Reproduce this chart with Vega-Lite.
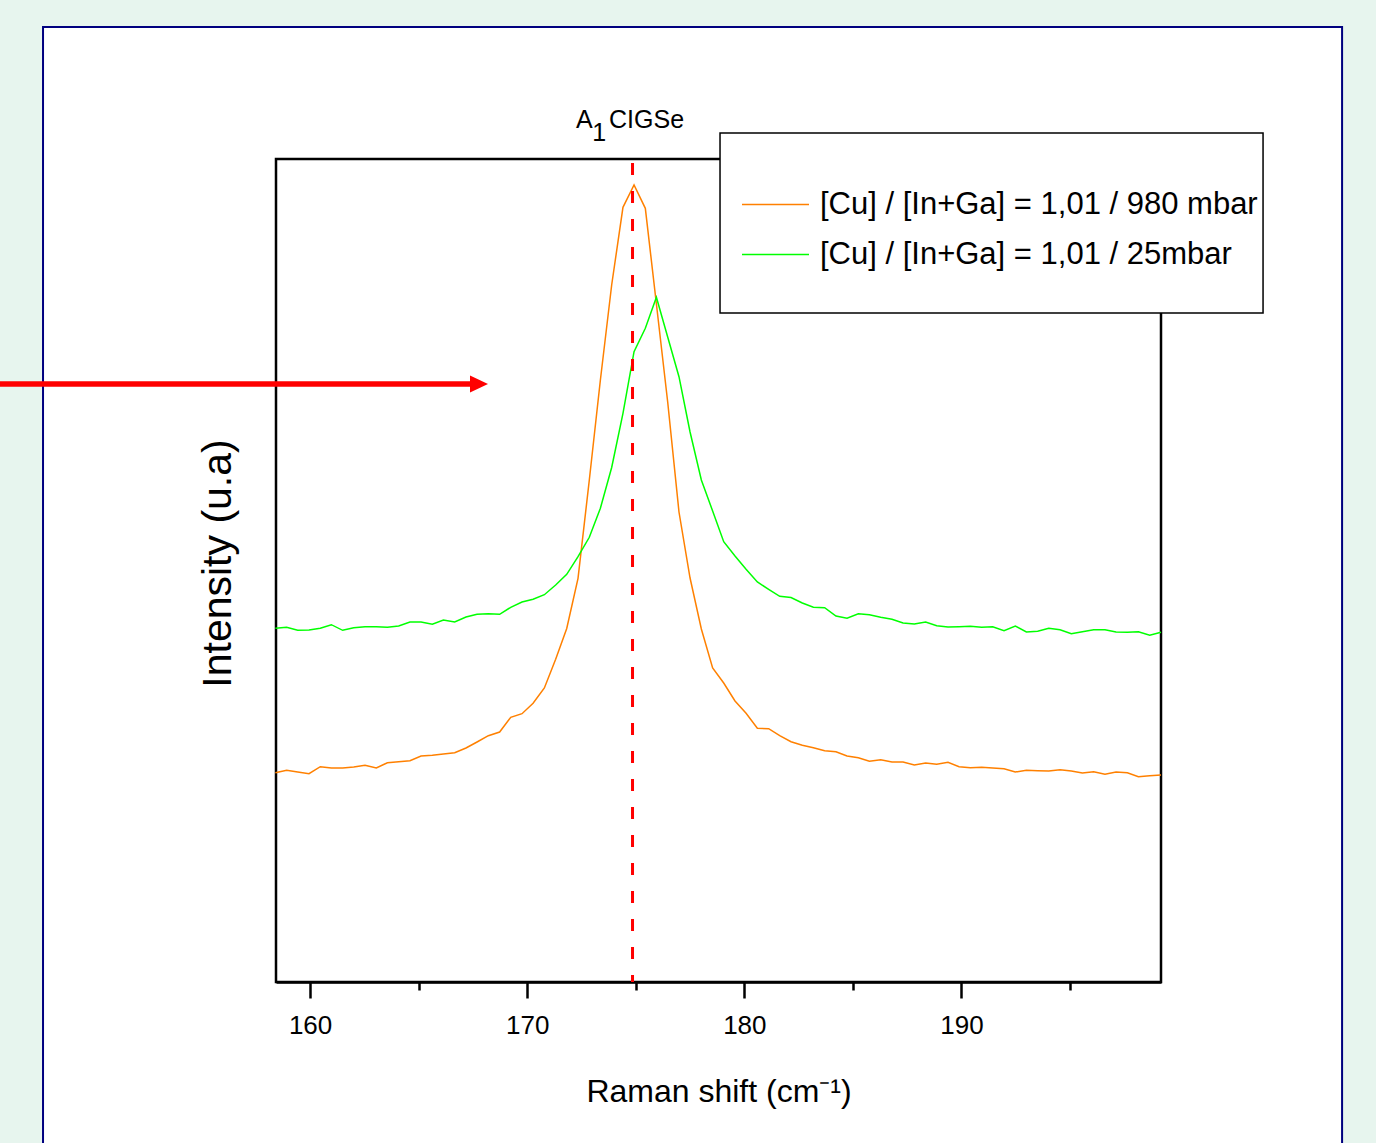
{
  "$schema": "https://vega.github.io/schema/vega-lite/v6.json",
  "autosize": {"type": "none"},
  "padding": {"left": 276, "top": 159, "right": 215, "bottom": 161},
  "width": 885,
  "height": 823,
  "background": "white",
  "config": {
    "view": {"stroke": "black", "strokeWidth": 2.5},
    "axis": {"grid": false}
  },
  "datasets": {
    "spectra": [
      {"x":158.40,"y":209.3,"series":"[Cu] / [In+Ga] = 1,01 / 980 mbar"},
      {"x":158.92,"y":211.7,"series":"[Cu] / [In+Ga] = 1,01 / 980 mbar"},
      {"x":159.43,"y":210.0,"series":"[Cu] / [In+Ga] = 1,01 / 980 mbar"},
      {"x":159.95,"y":208.3,"series":"[Cu] / [In+Ga] = 1,01 / 980 mbar"},
      {"x":160.47,"y":215.3,"series":"[Cu] / [In+Ga] = 1,01 / 980 mbar"},
      {"x":160.98,"y":214.0,"series":"[Cu] / [In+Ga] = 1,01 / 980 mbar"},
      {"x":161.50,"y":214.0,"series":"[Cu] / [In+Ga] = 1,01 / 980 mbar"},
      {"x":162.01,"y":215.0,"series":"[Cu] / [In+Ga] = 1,01 / 980 mbar"},
      {"x":162.53,"y":216.7,"series":"[Cu] / [In+Ga] = 1,01 / 980 mbar"},
      {"x":163.05,"y":214.0,"series":"[Cu] / [In+Ga] = 1,01 / 980 mbar"},
      {"x":163.56,"y":219.3,"series":"[Cu] / [In+Ga] = 1,01 / 980 mbar"},
      {"x":164.08,"y":220.3,"series":"[Cu] / [In+Ga] = 1,01 / 980 mbar"},
      {"x":164.60,"y":221.3,"series":"[Cu] / [In+Ga] = 1,01 / 980 mbar"},
      {"x":165.11,"y":226.0,"series":"[Cu] / [In+Ga] = 1,01 / 980 mbar"},
      {"x":165.63,"y":226.7,"series":"[Cu] / [In+Ga] = 1,01 / 980 mbar"},
      {"x":166.14,"y":228.0,"series":"[Cu] / [In+Ga] = 1,01 / 980 mbar"},
      {"x":166.66,"y":229.3,"series":"[Cu] / [In+Ga] = 1,01 / 980 mbar"},
      {"x":167.18,"y":234.0,"series":"[Cu] / [In+Ga] = 1,01 / 980 mbar"},
      {"x":167.69,"y":240.0,"series":"[Cu] / [In+Ga] = 1,01 / 980 mbar"},
      {"x":168.21,"y":246.3,"series":"[Cu] / [In+Ga] = 1,01 / 980 mbar"},
      {"x":168.73,"y":250.0,"series":"[Cu] / [In+Ga] = 1,01 / 980 mbar"},
      {"x":169.24,"y":264.7,"series":"[Cu] / [In+Ga] = 1,01 / 980 mbar"},
      {"x":169.76,"y":268.3,"series":"[Cu] / [In+Ga] = 1,01 / 980 mbar"},
      {"x":170.27,"y":278.7,"series":"[Cu] / [In+Ga] = 1,01 / 980 mbar"},
      {"x":170.79,"y":294.0,"series":"[Cu] / [In+Ga] = 1,01 / 980 mbar"},
      {"x":171.31,"y":322.7,"series":"[Cu] / [In+Ga] = 1,01 / 980 mbar"},
      {"x":171.82,"y":353.5,"series":"[Cu] / [In+Ga] = 1,01 / 980 mbar"},
      {"x":172.34,"y":403.7,"series":"[Cu] / [In+Ga] = 1,01 / 980 mbar"},
      {"x":172.86,"y":502.0,"series":"[Cu] / [In+Ga] = 1,01 / 980 mbar"},
      {"x":173.37,"y":602.0,"series":"[Cu] / [In+Ga] = 1,01 / 980 mbar"},
      {"x":173.89,"y":697.0,"series":"[Cu] / [In+Ga] = 1,01 / 980 mbar"},
      {"x":174.41,"y":774.7,"series":"[Cu] / [In+Ga] = 1,01 / 980 mbar"},
      {"x":174.92,"y":797.0,"series":"[Cu] / [In+Ga] = 1,01 / 980 mbar"},
      {"x":175.44,"y":773.7,"series":"[Cu] / [In+Ga] = 1,01 / 980 mbar"},
      {"x":175.95,"y":678.0,"series":"[Cu] / [In+Ga] = 1,01 / 980 mbar"},
      {"x":176.47,"y":580.0,"series":"[Cu] / [In+Ga] = 1,01 / 980 mbar"},
      {"x":176.99,"y":470.0,"series":"[Cu] / [In+Ga] = 1,01 / 980 mbar"},
      {"x":177.50,"y":404.0,"series":"[Cu] / [In+Ga] = 1,01 / 980 mbar"},
      {"x":178.02,"y":353.0,"series":"[Cu] / [In+Ga] = 1,01 / 980 mbar"},
      {"x":178.54,"y":314.0,"series":"[Cu] / [In+Ga] = 1,01 / 980 mbar"},
      {"x":179.05,"y":299.0,"series":"[Cu] / [In+Ga] = 1,01 / 980 mbar"},
      {"x":179.57,"y":281.0,"series":"[Cu] / [In+Ga] = 1,01 / 980 mbar"},
      {"x":180.08,"y":268.7,"series":"[Cu] / [In+Ga] = 1,01 / 980 mbar"},
      {"x":180.60,"y":253.7,"series":"[Cu] / [In+Ga] = 1,01 / 980 mbar"},
      {"x":181.12,"y":253.3,"series":"[Cu] / [In+Ga] = 1,01 / 980 mbar"},
      {"x":181.63,"y":246.3,"series":"[Cu] / [In+Ga] = 1,01 / 980 mbar"},
      {"x":182.15,"y":240.3,"series":"[Cu] / [In+Ga] = 1,01 / 980 mbar"},
      {"x":182.67,"y":236.7,"series":"[Cu] / [In+Ga] = 1,01 / 980 mbar"},
      {"x":183.18,"y":234.3,"series":"[Cu] / [In+Ga] = 1,01 / 980 mbar"},
      {"x":183.70,"y":231.3,"series":"[Cu] / [In+Ga] = 1,01 / 980 mbar"},
      {"x":184.22,"y":230.3,"series":"[Cu] / [In+Ga] = 1,01 / 980 mbar"},
      {"x":184.73,"y":226.0,"series":"[Cu] / [In+Ga] = 1,01 / 980 mbar"},
      {"x":185.25,"y":224.3,"series":"[Cu] / [In+Ga] = 1,01 / 980 mbar"},
      {"x":185.76,"y":220.7,"series":"[Cu] / [In+Ga] = 1,01 / 980 mbar"},
      {"x":186.28,"y":222.3,"series":"[Cu] / [In+Ga] = 1,01 / 980 mbar"},
      {"x":186.80,"y":220.0,"series":"[Cu] / [In+Ga] = 1,01 / 980 mbar"},
      {"x":187.31,"y":220.0,"series":"[Cu] / [In+Ga] = 1,01 / 980 mbar"},
      {"x":187.83,"y":217.0,"series":"[Cu] / [In+Ga] = 1,01 / 980 mbar"},
      {"x":188.35,"y":219.0,"series":"[Cu] / [In+Ga] = 1,01 / 980 mbar"},
      {"x":188.86,"y":217.7,"series":"[Cu] / [In+Ga] = 1,01 / 980 mbar"},
      {"x":189.38,"y":219.7,"series":"[Cu] / [In+Ga] = 1,01 / 980 mbar"},
      {"x":189.89,"y":215.3,"series":"[Cu] / [In+Ga] = 1,01 / 980 mbar"},
      {"x":190.41,"y":214.3,"series":"[Cu] / [In+Ga] = 1,01 / 980 mbar"},
      {"x":190.93,"y":214.7,"series":"[Cu] / [In+Ga] = 1,01 / 980 mbar"},
      {"x":191.44,"y":214.0,"series":"[Cu] / [In+Ga] = 1,01 / 980 mbar"},
      {"x":191.96,"y":213.3,"series":"[Cu] / [In+Ga] = 1,01 / 980 mbar"},
      {"x":192.48,"y":210.0,"series":"[Cu] / [In+Ga] = 1,01 / 980 mbar"},
      {"x":192.99,"y":211.7,"series":"[Cu] / [In+Ga] = 1,01 / 980 mbar"},
      {"x":193.51,"y":211.3,"series":"[Cu] / [In+Ga] = 1,01 / 980 mbar"},
      {"x":194.02,"y":211.0,"series":"[Cu] / [In+Ga] = 1,01 / 980 mbar"},
      {"x":194.54,"y":212.3,"series":"[Cu] / [In+Ga] = 1,01 / 980 mbar"},
      {"x":195.06,"y":211.0,"series":"[Cu] / [In+Ga] = 1,01 / 980 mbar"},
      {"x":195.57,"y":209.0,"series":"[Cu] / [In+Ga] = 1,01 / 980 mbar"},
      {"x":196.09,"y":210.3,"series":"[Cu] / [In+Ga] = 1,01 / 980 mbar"},
      {"x":196.61,"y":207.7,"series":"[Cu] / [In+Ga] = 1,01 / 980 mbar"},
      {"x":197.12,"y":210.0,"series":"[Cu] / [In+Ga] = 1,01 / 980 mbar"},
      {"x":197.64,"y":209.3,"series":"[Cu] / [In+Ga] = 1,01 / 980 mbar"},
      {"x":198.15,"y":205.3,"series":"[Cu] / [In+Ga] = 1,01 / 980 mbar"},
      {"x":198.67,"y":206.3,"series":"[Cu] / [In+Ga] = 1,01 / 980 mbar"},
      {"x":199.19,"y":207.0,"series":"[Cu] / [In+Ga] = 1,01 / 980 mbar"},
      {"x":158.40,"y":353.7,"series":"[Cu] / [In+Ga] = 1,01 / 25mbar"},
      {"x":158.92,"y":354.7,"series":"[Cu] / [In+Ga] = 1,01 / 25mbar"},
      {"x":159.43,"y":351.7,"series":"[Cu] / [In+Ga] = 1,01 / 25mbar"},
      {"x":159.95,"y":352.0,"series":"[Cu] / [In+Ga] = 1,01 / 25mbar"},
      {"x":160.47,"y":353.7,"series":"[Cu] / [In+Ga] = 1,01 / 25mbar"},
      {"x":160.98,"y":357.3,"series":"[Cu] / [In+Ga] = 1,01 / 25mbar"},
      {"x":161.50,"y":351.7,"series":"[Cu] / [In+Ga] = 1,01 / 25mbar"},
      {"x":162.01,"y":354.3,"series":"[Cu] / [In+Ga] = 1,01 / 25mbar"},
      {"x":162.53,"y":355.3,"series":"[Cu] / [In+Ga] = 1,01 / 25mbar"},
      {"x":163.05,"y":355.3,"series":"[Cu] / [In+Ga] = 1,01 / 25mbar"},
      {"x":163.56,"y":354.7,"series":"[Cu] / [In+Ga] = 1,01 / 25mbar"},
      {"x":164.08,"y":356.0,"series":"[Cu] / [In+Ga] = 1,01 / 25mbar"},
      {"x":164.60,"y":360.0,"series":"[Cu] / [In+Ga] = 1,01 / 25mbar"},
      {"x":165.11,"y":360.0,"series":"[Cu] / [In+Ga] = 1,01 / 25mbar"},
      {"x":165.63,"y":357.7,"series":"[Cu] / [In+Ga] = 1,01 / 25mbar"},
      {"x":166.14,"y":362.0,"series":"[Cu] / [In+Ga] = 1,01 / 25mbar"},
      {"x":166.66,"y":360.0,"series":"[Cu] / [In+Ga] = 1,01 / 25mbar"},
      {"x":167.18,"y":365.0,"series":"[Cu] / [In+Ga] = 1,01 / 25mbar"},
      {"x":167.69,"y":367.7,"series":"[Cu] / [In+Ga] = 1,01 / 25mbar"},
      {"x":168.21,"y":368.3,"series":"[Cu] / [In+Ga] = 1,01 / 25mbar"},
      {"x":168.73,"y":367.7,"series":"[Cu] / [In+Ga] = 1,01 / 25mbar"},
      {"x":169.24,"y":374.7,"series":"[Cu] / [In+Ga] = 1,01 / 25mbar"},
      {"x":169.76,"y":380.0,"series":"[Cu] / [In+Ga] = 1,01 / 25mbar"},
      {"x":170.27,"y":382.7,"series":"[Cu] / [In+Ga] = 1,01 / 25mbar"},
      {"x":170.79,"y":387.3,"series":"[Cu] / [In+Ga] = 1,01 / 25mbar"},
      {"x":171.31,"y":397.0,"series":"[Cu] / [In+Ga] = 1,01 / 25mbar"},
      {"x":171.82,"y":407.7,"series":"[Cu] / [In+Ga] = 1,01 / 25mbar"},
      {"x":172.34,"y":425.3,"series":"[Cu] / [In+Ga] = 1,01 / 25mbar"},
      {"x":172.86,"y":444.7,"series":"[Cu] / [In+Ga] = 1,01 / 25mbar"},
      {"x":173.37,"y":473.7,"series":"[Cu] / [In+Ga] = 1,01 / 25mbar"},
      {"x":173.89,"y":514.5,"series":"[Cu] / [In+Ga] = 1,01 / 25mbar"},
      {"x":174.41,"y":568.7,"series":"[Cu] / [In+Ga] = 1,01 / 25mbar"},
      {"x":174.92,"y":630.3,"series":"[Cu] / [In+Ga] = 1,01 / 25mbar"},
      {"x":175.44,"y":653.7,"series":"[Cu] / [In+Ga] = 1,01 / 25mbar"},
      {"x":175.95,"y":684.7,"series":"[Cu] / [In+Ga] = 1,01 / 25mbar"},
      {"x":176.47,"y":645.0,"series":"[Cu] / [In+Ga] = 1,01 / 25mbar"},
      {"x":176.99,"y":605.3,"series":"[Cu] / [In+Ga] = 1,01 / 25mbar"},
      {"x":177.50,"y":550.0,"series":"[Cu] / [In+Ga] = 1,01 / 25mbar"},
      {"x":178.02,"y":502.0,"series":"[Cu] / [In+Ga] = 1,01 / 25mbar"},
      {"x":178.54,"y":471.0,"series":"[Cu] / [In+Ga] = 1,01 / 25mbar"},
      {"x":179.05,"y":440.3,"series":"[Cu] / [In+Ga] = 1,01 / 25mbar"},
      {"x":179.57,"y":426.0,"series":"[Cu] / [In+Ga] = 1,01 / 25mbar"},
      {"x":180.08,"y":412.7,"series":"[Cu] / [In+Ga] = 1,01 / 25mbar"},
      {"x":180.60,"y":400.0,"series":"[Cu] / [In+Ga] = 1,01 / 25mbar"},
      {"x":181.12,"y":392.7,"series":"[Cu] / [In+Ga] = 1,01 / 25mbar"},
      {"x":181.63,"y":385.7,"series":"[Cu] / [In+Ga] = 1,01 / 25mbar"},
      {"x":182.15,"y":384.5,"series":"[Cu] / [In+Ga] = 1,01 / 25mbar"},
      {"x":182.67,"y":379.0,"series":"[Cu] / [In+Ga] = 1,01 / 25mbar"},
      {"x":183.18,"y":374.7,"series":"[Cu] / [In+Ga] = 1,01 / 25mbar"},
      {"x":183.70,"y":374.3,"series":"[Cu] / [In+Ga] = 1,01 / 25mbar"},
      {"x":184.22,"y":366.0,"series":"[Cu] / [In+Ga] = 1,01 / 25mbar"},
      {"x":184.73,"y":363.7,"series":"[Cu] / [In+Ga] = 1,01 / 25mbar"},
      {"x":185.25,"y":368.3,"series":"[Cu] / [In+Ga] = 1,01 / 25mbar"},
      {"x":185.76,"y":367.3,"series":"[Cu] / [In+Ga] = 1,01 / 25mbar"},
      {"x":186.28,"y":364.7,"series":"[Cu] / [In+Ga] = 1,01 / 25mbar"},
      {"x":186.80,"y":362.7,"series":"[Cu] / [In+Ga] = 1,01 / 25mbar"},
      {"x":187.31,"y":359.0,"series":"[Cu] / [In+Ga] = 1,01 / 25mbar"},
      {"x":187.83,"y":358.0,"series":"[Cu] / [In+Ga] = 1,01 / 25mbar"},
      {"x":188.35,"y":360.0,"series":"[Cu] / [In+Ga] = 1,01 / 25mbar"},
      {"x":188.86,"y":356.3,"series":"[Cu] / [In+Ga] = 1,01 / 25mbar"},
      {"x":189.38,"y":355.0,"series":"[Cu] / [In+Ga] = 1,01 / 25mbar"},
      {"x":189.89,"y":355.3,"series":"[Cu] / [In+Ga] = 1,01 / 25mbar"},
      {"x":190.41,"y":355.7,"series":"[Cu] / [In+Ga] = 1,01 / 25mbar"},
      {"x":190.93,"y":354.7,"series":"[Cu] / [In+Ga] = 1,01 / 25mbar"},
      {"x":191.44,"y":355.3,"series":"[Cu] / [In+Ga] = 1,01 / 25mbar"},
      {"x":191.96,"y":351.3,"series":"[Cu] / [In+Ga] = 1,01 / 25mbar"},
      {"x":192.48,"y":356.0,"series":"[Cu] / [In+Ga] = 1,01 / 25mbar"},
      {"x":192.99,"y":350.0,"series":"[Cu] / [In+Ga] = 1,01 / 25mbar"},
      {"x":193.51,"y":350.7,"series":"[Cu] / [In+Ga] = 1,01 / 25mbar"},
      {"x":194.02,"y":353.7,"series":"[Cu] / [In+Ga] = 1,01 / 25mbar"},
      {"x":194.54,"y":352.3,"series":"[Cu] / [In+Ga] = 1,01 / 25mbar"},
      {"x":195.06,"y":348.3,"series":"[Cu] / [In+Ga] = 1,01 / 25mbar"},
      {"x":195.57,"y":350.3,"series":"[Cu] / [In+Ga] = 1,01 / 25mbar"},
      {"x":196.09,"y":352.3,"series":"[Cu] / [In+Ga] = 1,01 / 25mbar"},
      {"x":196.61,"y":352.3,"series":"[Cu] / [In+Ga] = 1,01 / 25mbar"},
      {"x":197.12,"y":350.0,"series":"[Cu] / [In+Ga] = 1,01 / 25mbar"},
      {"x":197.64,"y":349.7,"series":"[Cu] / [In+Ga] = 1,01 / 25mbar"},
      {"x":198.15,"y":350.3,"series":"[Cu] / [In+Ga] = 1,01 / 25mbar"},
      {"x":198.67,"y":346.7,"series":"[Cu] / [In+Ga] = 1,01 / 25mbar"},
      {"x":199.19,"y":349.7,"series":"[Cu] / [In+Ga] = 1,01 / 25mbar"}
    ],
    "margins": [
      {"x":145.26,"x2":209.74,"y":992,"y2":956},
      {"x":145.26,"x2":147.67,"y":992,"y2":-178},
      {"x":207.55,"x2":209.74,"y":992,"y2":-178}
    ],
    "frame": [{"x":147.70,"x2":207.53,"y":955,"y2":-178}],
    "legendbox": [{"x":178.88,"x2":203.89,"y":849,"y2":669}],
    "peakline": [{"x":174.85,"y":819,"y2":0}],
    "arrowshaft": [{"x":145.26,"x2":167.50,"y":598}],
    "arrowhead": [{"x":167.78,"y":598}],
    "annotation": [
      {"x":172.25,"y":854,"label":"A"},
      {"x":172.99,"y":841,"label":"1"},
      {"x":173.77,"y":854,"label":"CIGSe"}
    ]
  },
  "encoding": {
    "x": {
      "field": "x",
      "type": "quantitative",
      "scale": {"domain": [158.43, 199.19], "nice": false, "zero": false},
      "axis": {
        "title": "Raman shift (cm⁻¹)",
        "values": [160, 165, 170, 175, 180, 185, 190, 195],
        "labelExpr": "datum.value % 10 === 0 ? datum.label : ''",
        "domain": true,
        "domainColor": "black",
        "domainWidth": 2.5,
        "tickColor": "black",
        "tickWidth": 2.5,
        "tickSize": {"condition": {"test": "datum.value % 10 === 0", "value": 16}, "value": 8},
        "labelFont": "Liberation Sans, Arial, sans-serif",
        "labelFontSize": 26,
        "labelColor": "black",
        "labelPadding": 14,
        "labelFlush": false,
        "titleFont": "Liberation Sans, Arial, sans-serif",
        "titleFontSize": 32,
        "titleFontWeight": "normal",
        "titleColor": "black",
        "titlePadding": 38
      }
    },
    "y": {
      "field": "y",
      "type": "quantitative",
      "scale": {"domain": [0, 823], "nice": false, "zero": false},
      "axis": {
        "title": "Intensity (u.a)",
        "domain": false,
        "ticks": false,
        "labels": false,
        "titleFont": "Liberation Sans, Arial, sans-serif",
        "titleFontSize": 41,
        "titleFontWeight": "normal",
        "titleColor": "black",
        "titlePadding": 37,
        "titleY": 404
      }
    }
  },
  "layer": [
    {
      "data": {"name": "margins"},
      "mark": {"type": "rect", "fill": "#e7f5ee", "stroke": null},
      "encoding": {"x2": {"field": "x2"}, "y2": {"field": "y2"}}
    },
    {
      "data": {"name": "frame"},
      "mark": {"type": "rect", "fill": null, "fillOpacity": 0, "stroke": "#00007f", "strokeWidth": 2},
      "encoding": {"x2": {"field": "x2"}, "y2": {"field": "y2"}}
    },
    {
      "data": {"name": "spectra"},
      "mark": {"type": "line", "strokeWidth": 1.5, "interpolate": "linear"},
      "encoding": {
        "color": {
          "field": "series",
          "type": "nominal",
          "scale": {
            "domain": ["[Cu] / [In+Ga] = 1,01 / 980 mbar", "[Cu] / [In+Ga] = 1,01 / 25mbar"],
            "range": ["#ff8000", "#00ff00"]
          },
          "legend": {
            "orient": "none",
            "legendX": 465,
            "legendY": 11,
            "title": null,
            "padding": 0,
            "symbolType": "stroke",
            "symbolSize": 4489,
            "symbolStrokeWidth": 1.5,
            "labelFont": "Liberation Sans, Arial, sans-serif",
            "labelFontSize": 31,
            "labelColor": "black",
            "labelLimit": 0,
            "labelOffset": 10,
            "rowPadding": -12
          }
        }
      }
    },
    {
      "data": {"name": "legendbox"},
      "mark": {"type": "rect", "fill": "white", "stroke": "black", "strokeWidth": 1.5},
      "encoding": {"x2": {"field": "x2"}, "y2": {"field": "y2"}}
    },
    {
      "data": {"name": "peakline"},
      "mark": {"type": "rule", "color": "#ff0000", "strokeWidth": 3, "strokeDash": [12, 16]},
      "encoding": {"y2": {"field": "y2"}}
    },
    {
      "data": {"name": "arrowshaft"},
      "mark": {"type": "rule", "color": "#ff0000", "strokeWidth": 5.5},
      "encoding": {"x2": {"field": "x2"}}
    },
    {
      "data": {"name": "arrowhead"},
      "mark": {"type": "point", "shape": "M-1,-0.95L1,0L-1,0.95Z", "filled": true, "color": "#ff0000", "opacity": 1, "size": 324}
    },
    {
      "data": {"name": "annotation"},
      "mark": {"type": "text", "align": "left", "baseline": "alphabetic", "font": "Liberation Sans, Arial, sans-serif", "fontSize": 25, "color": "black"},
      "encoding": {"text": {"field": "label"}}
    }
  ]
}
